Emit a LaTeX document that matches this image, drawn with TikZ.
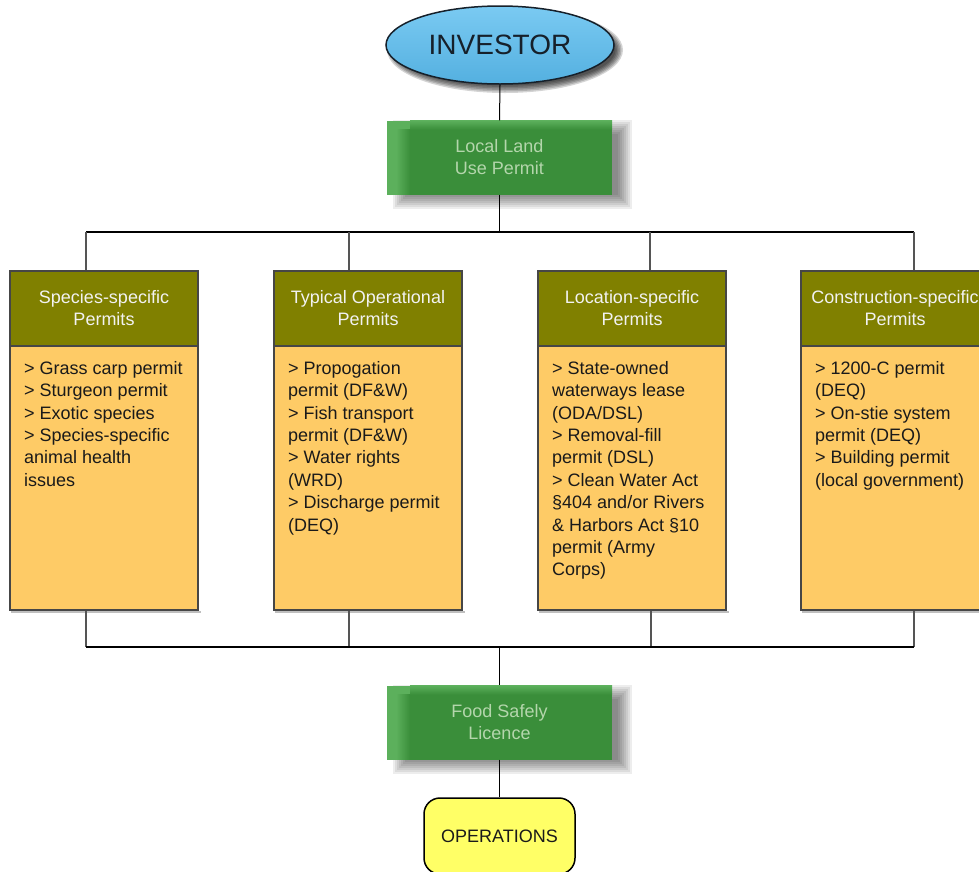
\documentclass[tikz,border=0pt]{standalone}
\usepackage{fontspec}
\setmainfont{Liberation Sans}
\usetikzlibrary{shapes.geometric,calc}
\pgfdeclarelayer{background}
\pgfsetlayers{background,main}
\definecolor{olivehdr}{RGB}{128,128,0}
\definecolor{bodyfill}{RGB}{254,203,102}
\definecolor{boxborder}{RGB}{70,70,70}
\definecolor{hdrtext}{RGB}{242,242,242}
\definecolor{bodytext}{RGB}{26,26,26}
\definecolor{greenlight}{RGB}{92,176,92}
\definecolor{greendark}{RGB}{58,142,58}
\definecolor{greentext}{RGB}{180,214,172}
\definecolor{opsfill}{RGB}{255,255,102}
\definecolor{skytop}{RGB}{122,202,242}
\definecolor{skybot}{RGB}{84,176,224}
\definecolor{skyline}{RGB}{22,32,42}
\definecolor{dropgray}{RGB}{85,85,85}
\begin{document}
\begin{tikzpicture}[x=1pt,y=-1pt,
  hdr/.style={draw=boxborder, line width=1.2pt, fill=olivehdr, minimum width=188pt, minimum height=75pt,
    inner sep=0pt, text=hdrtext, font=\fontsize{18}{22}\selectfont, align=center},
  bodybox/.style={draw=boxborder, line width=1.2pt, fill=bodyfill, minimum width=188pt, minimum height=264pt, inner sep=0pt},
  bodytxt/.style={anchor=north west, inner sep=0pt, align=left, text=bodytext, font=\fontsize{18}{22.4}\selectfont},
  greenbox/.style={fill=greenlight, minimum width=225pt, minimum height=74pt, inner sep=0pt,
    text=greentext, font=\fontsize{18}{22}\selectfont, align=center,
    path picture={
      \fill[greendark] ($(path picture bounding box.north west)+(23,9)$) rectangle (path picture bounding box.south east);
      \shade[left color=greenlight, right color=greendark] ($(path picture bounding box.north west)+(9,9)$) rectangle ($(path picture bounding box.south west)+(23,0)$);
      \shade[top color=greenlight, bottom color=greendark] ($(path picture bounding box.north west)+(23,0)$) rectangle ($(path picture bounding box.north east)+(0,9)$);
    }},
  bus/.style={draw=black, line width=1.3pt},
  drop/.style={draw=dropgray, line width=1.3pt},
  stem/.style={draw=black, line width=1pt}
]
\path[use as bounding box] (0,0) rectangle (979,871);
\clip (0,0) rectangle (979,871);

% top
\node[ellipse, draw=skyline, line width=1.5pt, top color=skytop, bottom color=skybot,
  minimum width=228pt, minimum height=78pt, inner sep=0pt, text=skyline,
  font=\fontsize{28}{32}\selectfont] (inv) at (500,45) {INVESTOR};
\node[greenbox] (g1) at (499.5,157.5) {Local Land\\Use Permit};

% columns
\node[hdr] (h1) at (104,308.5) {Species-specific\\Permits};
\node[hdr] (h2) at (368,308.5) {Typical Operational\\Permits};
\node[hdr] (h3) at (632,308.5) {Location-specific\\Permits};
\node[hdr] (h4) at (895,308.5) {Construction-specific\\Permits};
\node[bodybox] (b1) at (104,478) {};
\node[bodybox] (b2) at (368,478) {};
\node[bodybox] (b3) at (632,478) {};
\node[bodybox] (b4) at (895,478) {};
\node[bodytxt] (t1) at (24,361) {> Grass carp permit\\> Sturgeon permit\\> Exotic species\\> Species-specific\\animal health\\issues};
\node[bodytxt] (t2) at (288,361) {> Propogation\\permit (DF\&W)\\> Fish transport\\permit (DF\&W)\\> Water rights\\(WRD)\\> Discharge permit\\(DEQ)};
\node[bodytxt] (t3) at (552,361) {> State-owned\\waterways lease\\(ODA/DSL)\\> Removal-fill\\permit (DSL)\\> Clean Water Act\\§404 and/or Rivers\\\& Harbors Act §10\\permit (Army\\Corps)};
\node[bodytxt] (t4) at (815,361) {> 1200-C permit\\(DEQ)\\> On-stie system\\permit (DEQ)\\> Building permit\\(local government)};

% bottom
\node[greenbox] (g2) at (499.5,722.5) {Food Safely\\Licence};
\node[draw=black, line width=1.5pt, fill=opsfill, rounded corners=16pt, minimum width=151pt, minimum height=76pt,
  inner sep=0pt, text=bodytext, font=\fontsize{18}{22}\selectfont] (ops) at (499.5,836) {OPERATIONS};

% shadows
\begin{pgfonlayer}{background}
  \fill[white] (0,0) rectangle (979,871);
  \foreach \i in {0,...,5}{
    \fill[black, opacity=0.17] ($(inv.center)+(5,5)$) ellipse [x radius={118-1.5*\i}, y radius={43-1.5*\i}];
  }
  \foreach \g in {g1,g2}{
    \foreach \i in {0,...,7}{
      \fill[black, opacity=0.07] ($(\g.north west)+(6+2*\i,0+2*\i)$) rectangle ($(\g.south east)+(20-2*\i,14-2*\i)$);
    }
  }
  \foreach \b in {b1,b2,b3,b4}{
    \fill[black, opacity=0.25] ($(\b.south west)+(2,0)$) rectangle ($(\b.south east)+(2,2.5)$);
  }
\end{pgfonlayer}

% connectors
\coordinate (bt1) at (86,232);
\coordinate (bt2) at (349,232);
\coordinate (bt3) at (650,232);
\coordinate (bt4) at (914,232);
\coordinate (bb1) at (86,647);
\coordinate (bb2) at (349,647);
\coordinate (bb3) at (651,647);
\coordinate (bb4) at (914,647);

\draw[stem] (inv.south) -- (g1.north);
\draw[stem] (g1.south) -- (g1.south |- bt1);
\draw[bus] (bt1) -- (bt4);
\draw[drop] (bt1) -- (bt1 |- h1.north);
\draw[drop] (bt2) -- (bt2 |- h2.north);
\draw[drop] (bt3) -- (bt3 |- h3.north);
\draw[drop] (bt4) -- (bt4 |- h4.north);

\draw[drop] (bb1 |- b1.south) -- (bb1);
\draw[drop] (bb2 |- b2.south) -- (bb2);
\draw[drop] (bb3 |- b3.south) -- (bb3);
\draw[drop] (bb4 |- b4.south) -- (bb4);
\draw[bus] (bb1) -- (bb4);
\draw[stem] (g2.north |- bb1) -- (g2.north);
\draw[stem] (g2.south) -- (ops.north);
\end{tikzpicture}
\end{document}
